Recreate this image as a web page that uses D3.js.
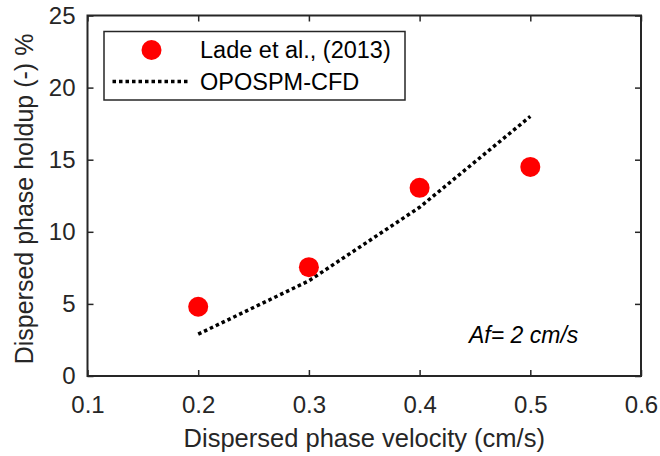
<!DOCTYPE html>
<html>
<head>
<meta charset="utf-8">
<script src="https://cdn.jsdelivr.net/npm/d3@7"></script>
<style>
  body { margin: 0; background: #fff; }
  text { font-family: "Liberation Sans", Arial, sans-serif; fill: #262626; }
</style>
</head>
<body>
<div id="chart"></div>
<script>
// data
var velocity = [0.2, 0.3, 0.4, 0.5];
var holdupExp = [4.8, 7.55, 13.05, 14.5];
var holdupSim = [2.9, 6.6, 11.7, 18.0];
var xTicks = [0.1, 0.2, 0.3, 0.4, 0.5, 0.6];
var yTicks = [0, 5, 10, 15, 20, 25];

var width = 660, height = 456;
var margin = { top: 15.5, right: 19, bottom: 80, left: 87.5 };
var innerW = width - margin.left - margin.right;
var innerH = height - margin.top - margin.bottom;

var svg = d3.select("#chart").append("svg")
  .attr("width", width)
  .attr("height", height);

var g = svg.append("g")
  .attr("transform", "translate(" + margin.left + "," + margin.top + ")");

var x = d3.scaleLinear().domain([0.1, 0.6]).range([0, innerW]);
var y = d3.scaleLinear().domain([0, 25]).range([innerH, 0]);

// simulated curve (dotted)
var line = d3.line()
  .x(function (d, i) { return x(velocity[i]); })
  .y(function (d) { return y(d); });

g.append("path")
  .datum(holdupSim)
  .attr("d", line)
  .attr("fill", "none")
  .attr("stroke", "#000")
  .attr("stroke-width", 3.5)
  .attr("stroke-dasharray", "3.5,3");

// experimental points
g.selectAll("circle.exp")
  .data(holdupExp)
  .enter()
  .append("circle")
  .attr("class", "exp")
  .attr("cx", function (d, i) { return x(velocity[i]); })
  .attr("cy", function (d) { return y(d); })
  .attr("r", 10)
  .attr("fill", "#ff0000");

// axes, ticks inward like matlab
var fmt = function (d) { return d; };
var axisStyle = function (sel) {
  sel.select(".domain").remove();
  sel.selectAll("line").attr("stroke", "#262626").attr("stroke-width", 1.5);
  sel.selectAll("text").style("font-size", "24px").attr("fill", "#262626");
};

g.append("g")
  .attr("transform", "translate(0," + innerH + ")")
  .call(d3.axisBottom(x).tickValues(xTicks).tickFormat(d3.format(".1f")).tickSizeInner(-6).tickPadding(20))
  .call(axisStyle);

g.append("g")
  .call(d3.axisTop(x).tickValues(xTicks).tickFormat("").tickSizeInner(-6))
  .call(axisStyle);

g.append("g")
  .call(d3.axisLeft(y).tickValues(yTicks).tickFormat(fmt).tickSizeInner(-6).tickPadding(12))
  .call(axisStyle);

g.append("g")
  .attr("transform", "translate(" + innerW + ",0)")
  .call(d3.axisRight(y).tickValues(yTicks).tickFormat("").tickSizeInner(-6))
  .call(axisStyle);

// box
g.append("rect")
  .attr("width", innerW)
  .attr("height", innerH)
  .attr("fill", "none")
  .attr("stroke", "#262626")
  .attr("stroke-width", 2);

// axis titles
svg.append("text")
  .attr("x", margin.left + innerW / 2)
  .attr("y", 447)
  .attr("text-anchor", "middle")
  .style("font-size", "25.5px")
  .text("Dispersed phase velocity (cm/s)");

svg.append("text")
  .attr("transform", "translate(33,199) rotate(-90)")
  .attr("text-anchor", "middle")
  .style("font-size", "25px")
  .text("Dispersed phase holdup (-) %");

// annotation
svg.append("text")
  .attr("x", 469)
  .attr("y", 343)
  .style("font-size", "23px")
  .style("font-style", "italic")
  .style("fill", "#000")
  .text("Af= 2 cm/s");

// legend
var legend = svg.append("g");
legend.append("rect")
  .attr("x", 104)
  .attr("y", 31.5)
  .attr("width", 301)
  .attr("height", 68.5)
  .attr("fill", "#fff")
  .attr("stroke", "#262626")
  .attr("stroke-width", 1.5);

legend.append("circle")
  .attr("cx", 151.5)
  .attr("cy", 50)
  .attr("r", 10)
  .attr("fill", "#ff0000");

legend.append("line")
  .attr("x1", 112.5)
  .attr("x2", 188.5)
  .attr("y1", 81.5)
  .attr("y2", 81.5)
  .attr("stroke", "#000")
  .attr("stroke-width", 3.5)
  .attr("stroke-dasharray", "3.5,3");

legend.append("text")
  .attr("x", 200)
  .attr("y", 58)
  .style("font-size", "23.5px")
  .style("fill", "#000")
  .text("Lade et al., (2013)");

legend.append("text")
  .attr("x", 200)
  .attr("y", 90)
  .style("font-size", "23.5px")
  .style("fill", "#000")
  .text("OPOSPM-CFD");
</script>
</body>
</html>
